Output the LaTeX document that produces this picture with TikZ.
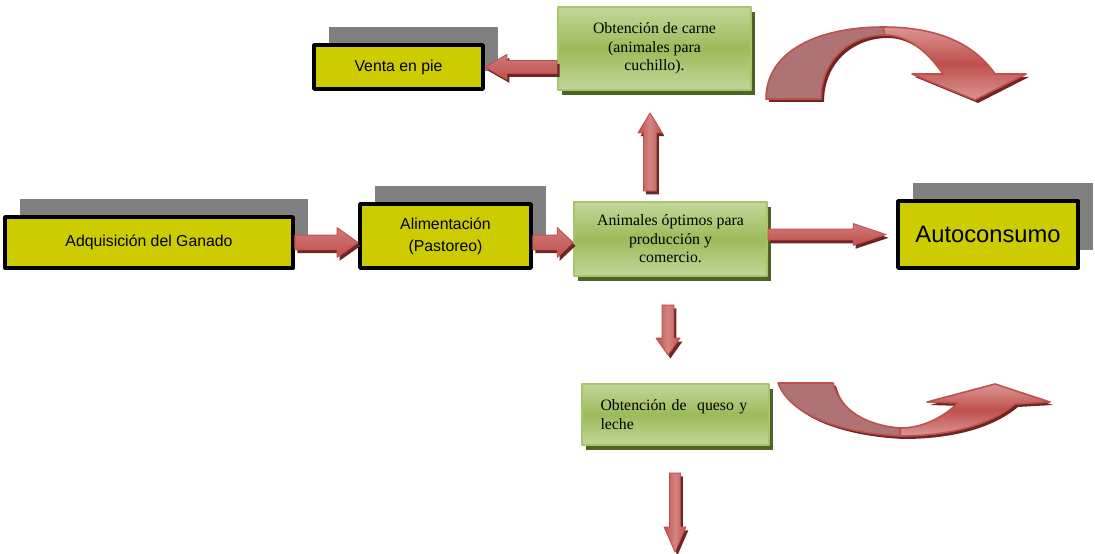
\documentclass[tikz,border=0pt]{standalone}
\usepackage{fontspec}
\setmainfont{Liberation Serif}
\setsansfont{Liberation Sans}
\usetikzlibrary{calc,shadows,positioning}
\definecolor{amarillo}{HTML}{CCCC00}
\definecolor{verdeclaro}{HTML}{C3D69B}
\definecolor{verde}{HTML}{9BBB59}
\definecolor{verdeborde}{HTML}{A8C56B}
\definecolor{verdeosc}{HTML}{4F6228}
\definecolor{rojo}{HTML}{C0504D}
\definecolor{rojoclaro}{HTML}{DA9694}
\definecolor{rojoosc}{HTML}{6E2624}
\definecolor{malva}{HTML}{AE7372}
\tikzset{
  caja/.style={draw=black, line width=2.2pt, fill=amarillo, align=center, inner sep=0pt,
    font=\sffamily\fontsize{9}{12.5}\selectfont,
    general shadow={fill=gray, shadow xshift=8.5pt, shadow yshift=10pt}},
  cajaverde/.style={draw=verdeborde, line width=1.1pt, top color=verdeclaro, bottom color=verdeclaro,
    middle color=verde, align=center, inner sep=0pt, font=\fontsize{9}{10.5}\selectfont,
    general shadow={fill=verdeosc, shadow xshift=2.2pt, shadow yshift=-2.6pt}},
  flecha/.style={draw=rojo, line width=0.5pt,
    preaction={fill=rojoosc, transform canvas={xshift=1.4pt, yshift=-1.9pt}}},
  fh/.style={top color=rojoclaro!60!rojo, bottom color=rojo},
  fv/.style={left color=rojo, right color=rojo, middle color=rojoclaro!75!rojo},
  curva/.style={draw=rojo, line width=0.9pt, line join=round}
}
% flecha de bloque: [estilo]{desde}{hasta}{medio tallo}{media punta}{largo punta}
\newcommand{\flecha}[6][fh]{%
  \coordinate (fb) at ($(#3)!#6!(#2)$);
  \path[flecha,#1] ($(#2)!#4!90:(#3)$) -- ($(fb)!#4!90:(#3)$) -- ($(fb)!#5!90:(#3)$) -- (#3)
    -- ($(fb)!#5!-90:(#3)$) -- ($(fb)!#4!-90:(#3)$) -- ($(#2)!#4!-90:(#3)$) -- cycle;}
\begin{document}
\begin{tikzpicture}[x=0.02cm, y=-0.02cm, line join=round]
  \useasboundingbox (0,0) rectangle (1095,554);
  % flecha curva arriba
  \fill[rojoosc, transform canvas={xshift=1.7pt, yshift=-1.7pt}] (766,99) .. controls (766,50) and (820,27) .. (883,27)
    .. controls (940,27) and (975,45) .. (995,74) -- (1026,74) -- (975,100) -- (912,74) -- (943,74)
    .. controls (925,48) and (905,35) .. (885,35) .. controls (850,35) and (821,60) .. (821,99) -- cycle;
  \path[curva, fill=malva] (766,99) .. controls (766,50) and (820,27) .. (883,27) -- (885,35)
    .. controls (850,35) and (821,60) .. (821,99) -- cycle;
  \path[curva, top color=rojoclaro, bottom color=rojoclaro, middle color=rojo] (883,27)
    .. controls (940,27) and (975,45) .. (995,74) -- (1026,74) -- (975,100) -- (912,74) -- (943,74)
    .. controls (925,48) and (905,35) .. (885,35) -- cycle;
  % flecha curva abajo
  \fill[rojoosc, transform canvas={xshift=1.7pt, yshift=-1.7pt}] (778,383) .. controls (790,415) and (840,433) .. (900,436)
    .. controls (950,436) and (990,425) .. (1015,404) -- (1050,402) -- (995,384) -- (927,402) -- (958,403)
    .. controls (940,420) and (920,428) .. (900,428) .. controls (865,425) and (840,410) .. (833,383) -- cycle;
  \path[curva, fill=malva] (778,383) .. controls (790,415) and (840,433) .. (900,436) -- (900,428)
    .. controls (865,425) and (840,410) .. (833,383) -- cycle;
  \path[curva, top color=rojoclaro, bottom color=rojoclaro, middle color=rojo] (900,436)
    .. controls (950,436) and (990,425) .. (1015,404) -- (1050,402) -- (995,384) -- (927,402) -- (958,403)
    .. controls (940,420) and (920,428) .. (900,428) -- cycle;
  % cajas
  \node[caja, minimum width=3.38cm, minimum height=0.88cm] (venta) at (398.5,67) {Venta en pie};
  \node[caja, minimum width=5.76cm, minimum height=1.02cm] (adq) at (149,242.5) {Adquisición del Ganado};
  \node[caja, minimum width=3.42cm, minimum height=1.28cm] (ali) at (445.5,236) {Alimentación\\(Pastoreo)};
  \node[caja, minimum width=3.6cm, minimum height=1.34cm, font=\sffamily\fontsize{13.5}{16}\selectfont] (auto) at (988,234.5) {Autoconsumo};
  \node[cajaverde, minimum width=3.86cm, minimum height=1.66cm] (carne) at (654.5,48.5) {Obtención de carne\\(animales para\\cuchillo).};
  \node[cajaverde, minimum width=3.86cm, minimum height=1.48cm] (ani) at (670.5,239) {Animales óptimos para\\producción y\\comercio.};
  \node[cajaverde, minimum width=3.74cm, minimum height=1.22cm, text width=3cm, align=left] (queso) at (675.5,414.5) {Obtención de~ queso y\\leche};
  % puntos de las flechas
  \coordinate (f1) at (ali.west |- adq.east);
  \coordinate (f2a) at (ali.east |- adq.east);
  \coordinate (f2b) at (ani.west |- adq.east);
  \coordinate (f3a) at (ani.east |- auto.west);
  \coordinate (f3b) at ($(auto.west)+(-10,0)$);
  \coordinate (f5) at (carne.west |- venta.east);
  \coordinate (s1) at ($(ani.north)+(-20.5,-10)$);
  \coordinate (s2) at ($(carne.south)+(-4.5,22)$);
  \coordinate (b1) at ($(ani.south)+(-2.5,28)$);
  \coordinate (b2) at ($(queso.north)+(-7.5,-28)$);
  \coordinate (b3) at ($(queso.south)+(-0.5,27)$);
  \coordinate (b4) at (675,552);
  % flechas
  \flecha{adq.east}{f1}{4.2pt}{8.5pt}{11.9pt}
  \flecha{f2a}{f2b}{4.2pt}{8.5pt}{9pt}
  \flecha{f3a}{f3b}{3.1pt}{6.2pt}{18.7pt}
  \flecha{f5}{venta.east}{3.7pt}{7.1pt}{12.5pt}
  \flecha[fv]{s1}{s2}{3.7pt}{6.8pt}{11.3pt}
  \flecha[fv]{b1}{b2}{3.4pt}{6.8pt}{9.6pt}
  \flecha[fv]{b3}{b4}{3.1pt}{6.2pt}{14.2pt}
\end{tikzpicture}
\end{document}
